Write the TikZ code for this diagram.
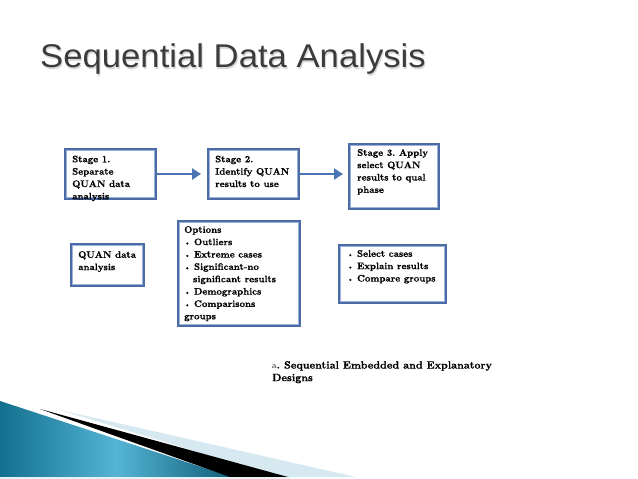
\documentclass[tikz,border=0pt]{standalone}
\usepackage{fontspec}
\newfontfamily\titlefont{Liberation Sans}
\newfontfamily\heavyfont{lmroman10-bold.otf}[FakeBold=0.6]
\newfontfamily\plainfont{lmroman10-regular.otf}
\usetikzlibrary{arrows.meta,calc}
\definecolor{boxblue}{HTML}{4A6BA6}
\definecolor{innerblue}{HTML}{9DB4DA}
\definecolor{arrowblue}{HTML}{4A74B4}
\definecolor{titlegrey}{HTML}{3C3C3C}
\definecolor{tealdark}{HTML}{13708F}
\definecolor{teallight}{HTML}{55B4D4}
\definecolor{skyline}{HTML}{D6E8F0}
\frenchspacing
\begin{document}
\begin{tikzpicture}[x=1bp,y=-1bp,
  box/.style={draw=boxblue, line width=2bp, fill=white, inner sep=0pt, anchor=north west},
  txt/.style={anchor=north west, inner sep=0pt, align=left, font=\heavyfont\fontsize{9.5}{12.4}\selectfont},
  flow/.style={draw=arrowblue, line width=2.6bp, -{Triangle[length=9bp,width=11bp]}}]
\useasboundingbox (0,0) rectangle (638,479);
\fill[white] (0,0) rectangle (638,479);

% title
\node[anchor=base west, inner sep=0pt, xscale=1.055, font=\titlefont\fontsize{33}{33}\selectfont, text=black!15] (titleshadow) at (41,69.5) {Sequential Data Analysis};
\node[anchor=base west, inner sep=0pt, xscale=1.055, font=\titlefont\fontsize{33}{33}\selectfont, text=titlegrey] (title) at (40,68) {Sequential Data Analysis};

% boxes
\node[box, minimum width=91bp, minimum height=50bp] (s1) at (64,148) {};
\node[box, minimum width=91bp, minimum height=50bp] (s2) at (207,148) {};
\node[box, minimum width=90bp, minimum height=65bp] (s3) at (348,143) {};
\node[box, minimum width=73bp, minimum height=42bp] (q) at (70,243) {};
\node[box, minimum width=122bp, minimum height=105bp] (opt) at (177,220) {};
\node[box, minimum width=107bp, minimum height=58bp] (sel) at (338,244) {};
\foreach \n in {s1,s2,s3,q,opt,sel}
  \draw[innerblue, line width=0.7bp] ($(\n.north west)+(2.6,2.6)$) rectangle ($(\n.south east)+(-2.6,-2.6)$);

% texts
\node[txt] (t1) at ($(s1.north west)+(8,7.5)$) {Stage 1.\\Separate\\QUAN data\\analysis};
\node[txt] (t2) at ($(s2.north west)+(8,7.5)$) {Stage 2.\\Identify QUAN\\results to use};
\node[txt] (t3) at ($(s3.north west)+(9,6)$) {Stage 3. Apply\\select QUAN\\results to qual\\phase};
\node[txt] (tq) at ($(q.north west)+(8,8)$) {QUAN data\\analysis};
\node[txt] (topt) at ($(opt.north west)+(7,6)$) {Options\\{\scriptsize\textbullet} Outliers\\{\scriptsize\textbullet} Extreme cases\\{\scriptsize\textbullet} Significant-no\\\phantom{\scriptsize\textbullet\ }significant results\\{\scriptsize\textbullet} Demographics\\{\scriptsize\textbullet} Comparisons\\groups};
\node[txt] (tsel) at ($(sel.north west)+(9,6)$) {{\scriptsize\textbullet} Select cases\\{\scriptsize\textbullet} Explain results\\{\scriptsize\textbullet} Compare groups};

% arrows
\draw[flow] (s1.east) -- ($(s2.west)+(-6,0)$);
\coordinate (s3in) at ($(s3.west)+(-5,0)$);
\draw[flow] (s2.east) -- (s3in |- s2.east);

% caption
\node[txt, font=\heavyfont\fontsize{10.6}{12.6}\selectfont] (cap) at (272,361) {{\plainfont\small a}. Sequential Embedded and Explanatory\\Designs};

% bottom decoration
\fill[skyline] (60,410) -- (356,477) -- (280,477) -- cycle;
\shade[left color=tealdark, right color=tealdark!85!black, middle color=teallight] (0,401) -- (232,477) -- (0,477) -- cycle;
\fill[black] (40,409) -- (288,477) -- (230,477) -- cycle;
\fill[skyline!60] (0,477) rectangle (290,479);
\end{tikzpicture}
\end{document}
